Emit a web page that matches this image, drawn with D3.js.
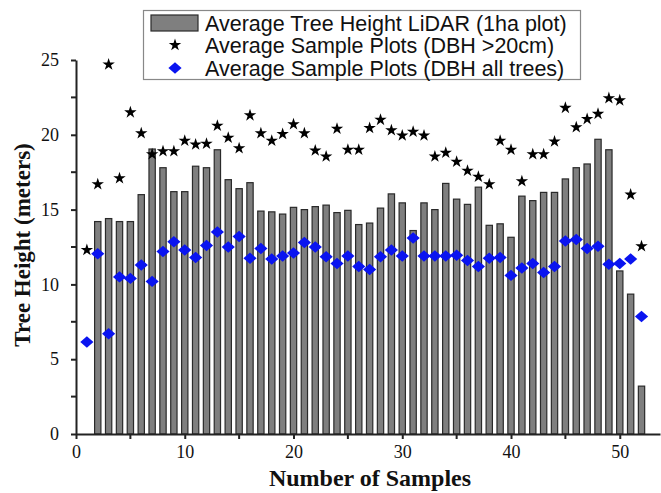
<!DOCTYPE html>
<html>
<head>
<meta charset="utf-8">
<script src="https://cdnjs.cloudflare.com/ajax/libs/d3/7.8.5/d3.min.js"></script>
<style>
body {margin:0; background:#fff;}
svg {display:block;}
.axis path, .axis line {stroke:#222; stroke-width:2;}
.axis text {font-family:"Liberation Serif","Times New Roman",serif; font-size:18px; fill:#111;}
.axis_label {font-family:"Liberation Serif","Times New Roman",serif; font-weight:bold; fill:#111;}
.legend_text {font-family:"Liberation Sans",Arial,sans-serif; font-size:21.5px; fill:#111;}
</style>
</head>
<body>
<script>
// sample number 1..52
var samples=d3.range(1,53);
// LiDAR average height per 1ha plot (sample 1 has no bar)
var lidar_height=[null,14.2,14.4,14.2,14.2,16.0,19.05,17.8,16.2,16.2,
	17.9,17.8,19.0,17.0,16.4,16.8,14.9,14.85,14.7,15.15,
	15.0,15.2,15.3,14.8,14.95,14.0,14.1,15.1,16.05,15.45,
	13.6,15.45,15.0,16.75,15.7,15.35,16.5,13.95,14.05,13.15,
	15.9,15.6,16.15,16.15,17.05,17.8,18.05,19.7,19.0,10.9,
	9.35,3.2];
// sample plots, DBH > 20cm
var plots_dbh20=[12.3,16.7,24.7,17.1,21.5,20.1,18.7,18.9,18.9,19.6,
	19.35,19.4,20.6,19.8,19.1,21.3,20.1,19.6,20.05,20.7,
	20.1,18.95,18.55,20.4,19.0,19.0,20.45,21.0,20.3,19.95,
	20.2,19.95,18.55,18.8,18.2,17.6,17.2,16.7,19.6,19.0,
	16.9,18.7,18.7,19.55,21.8,20.5,21.05,21.4,22.45,22.3,
	16.0,12.55];
// sample plots, all trees
var plots_all=[6.15,12.05,6.7,10.5,10.4,11.3,10.2,12.2,12.85,12.3,
	11.8,12.6,13.5,12.5,13.2,11.75,12.4,11.7,11.9,12.1,
	12.8,12.5,11.85,11.4,11.9,11.2,11.0,11.85,12.3,11.9,
	13.1,11.9,11.9,11.9,11.95,11.6,11.2,11.75,11.8,10.6,
	11.1,11.4,10.8,11.2,12.9,13.0,12.4,12.55,11.35,11.4,
	11.7,7.85];
var legend_labels=['Average Tree Height LiDAR (1ha plot)','Average Sample Plots (DBH >20cm)','Average Sample Plots (DBH all trees)'];
var xticks=[0,10,20,30,40,50];
var xminor=[5,15,25,35,45];
var yticks=[0,5,10,15,20,25];
var yminor=[2.5,7.5,12.5,17.5,22.5];

var W=661, H=493;
var svg=d3.select('body').append('svg').attr('width',W).attr('height',H);

var xScale=d3.scaleLinear().domain([0,53.7]).range([76,660]);
var yScale=d3.scaleLinear().domain([0,25]).range([434,60]);
var bar_width=0.58; // in sample units

// bars
svg.append('g').selectAll('rect')
	.data(samples.filter(function(s,i) {return lidar_height[i]!==null;}))
	.enter().append('rect')
	.attr('x',function(s) {return xScale(s-bar_width/2);})
	.attr('y',function(s) {return yScale(lidar_height[s-1]);})
	.attr('width',xScale(bar_width)-xScale(0))
	.attr('height',function(s) {return yScale(0)-yScale(lidar_height[s-1]);})
	.attr('fill','#7f7f7f')
	.attr('stroke','#2a2a2a')
	.attr('stroke-width',1.2);

// axes
var xAxis=d3.axisBottom(xScale).tickValues(xticks).tickSize(5).tickSizeOuter(0).tickPadding(6);
var gx=svg.append('g').attr('class','axis').attr('transform','translate(0,'+yScale(0)+')').call(xAxis);
gx.selectAll('.tickm').data(xminor).enter().append('line').attr('class','tickm')
	.attr('x1',function(d) {return xScale(d);}).attr('x2',function(d) {return xScale(d);})
	.attr('y1',0).attr('y2',5);
var yAxis=d3.axisLeft(yScale).tickValues(yticks).tickSize(5).tickSizeOuter(0).tickPadding(12);
var gy=svg.append('g').attr('class','axis').attr('transform','translate('+xScale(0)+',0)').call(yAxis);
gy.selectAll('.tickm').data(yminor).enter().append('line').attr('class','tickm')
	.attr('y1',function(d) {return yScale(d);}).attr('y2',function(d) {return yScale(d);})
	.attr('x1',0).attr('x2',-5);

// markers
var star=d3.symbol().type(d3.symbolStar).size(48);
var diamond=d3.symbol().type(d3.symbolSquare).size(72);

svg.append('g').selectAll('path')
	.data(samples)
	.enter().append('path')
	.attr('d',star())
	.attr('transform',function(s) {return 'translate('+xScale(s)+','+yScale(plots_dbh20[s-1])+')';})
	.attr('fill','#000');

svg.append('g').selectAll('path')
	.data(samples)
	.enter().append('path')
	.attr('d',diamond())
	.attr('transform',function(s) {return 'translate('+xScale(s)+','+yScale(plots_all[s-1])+') scale(1.1,0.95) rotate(45)';})
	.attr('fill','#0a14f0');

// axis labels
svg.append('text').attr('class','axis_label')
	.attr('x',370).attr('y',486)
	.style('text-anchor','middle')
	.style('font-size','24px')
	.text('Number of Samples');
svg.append('text').attr('class','axis_label')
	.attr('transform','rotate(-90)')
	.attr('x',-245).attr('y',30)
	.style('text-anchor','middle')
	.style('font-size','23px')
	.text('Tree Height (meters)');

// legend
var lg=svg.append('g');
lg.append('rect').attr('x',143.5).attr('y',10.5).attr('width',437).attr('height',69)
	.attr('fill','#fff').attr('stroke','#888').attr('stroke-width',1.2);
var rows=[23,45,68];
lg.append('rect').attr('x',151).attr('y',rows[0]-8).attr('width',47).attr('height',16)
	.attr('fill','#7f7f7f').attr('stroke','#2a2a2a').attr('stroke-width',1.2);
lg.append('path').attr('d',star()).attr('transform','translate(175,'+rows[1]+')').attr('fill','#000');
lg.append('path').attr('d',diamond()).attr('transform','translate(175,'+rows[2]+') scale(1.1,0.95) rotate(45)').attr('fill','#0a14f0');
lg.selectAll('.legend_text').data(legend_labels).enter().append('text')
	.attr('class','legend_text')
	.attr('x',205)
	.attr('y',function(d,i) {return rows[i];})
	.attr('dy','0.36em')
	.text(function(d) {return d;});
</script>
</body>
</html>
